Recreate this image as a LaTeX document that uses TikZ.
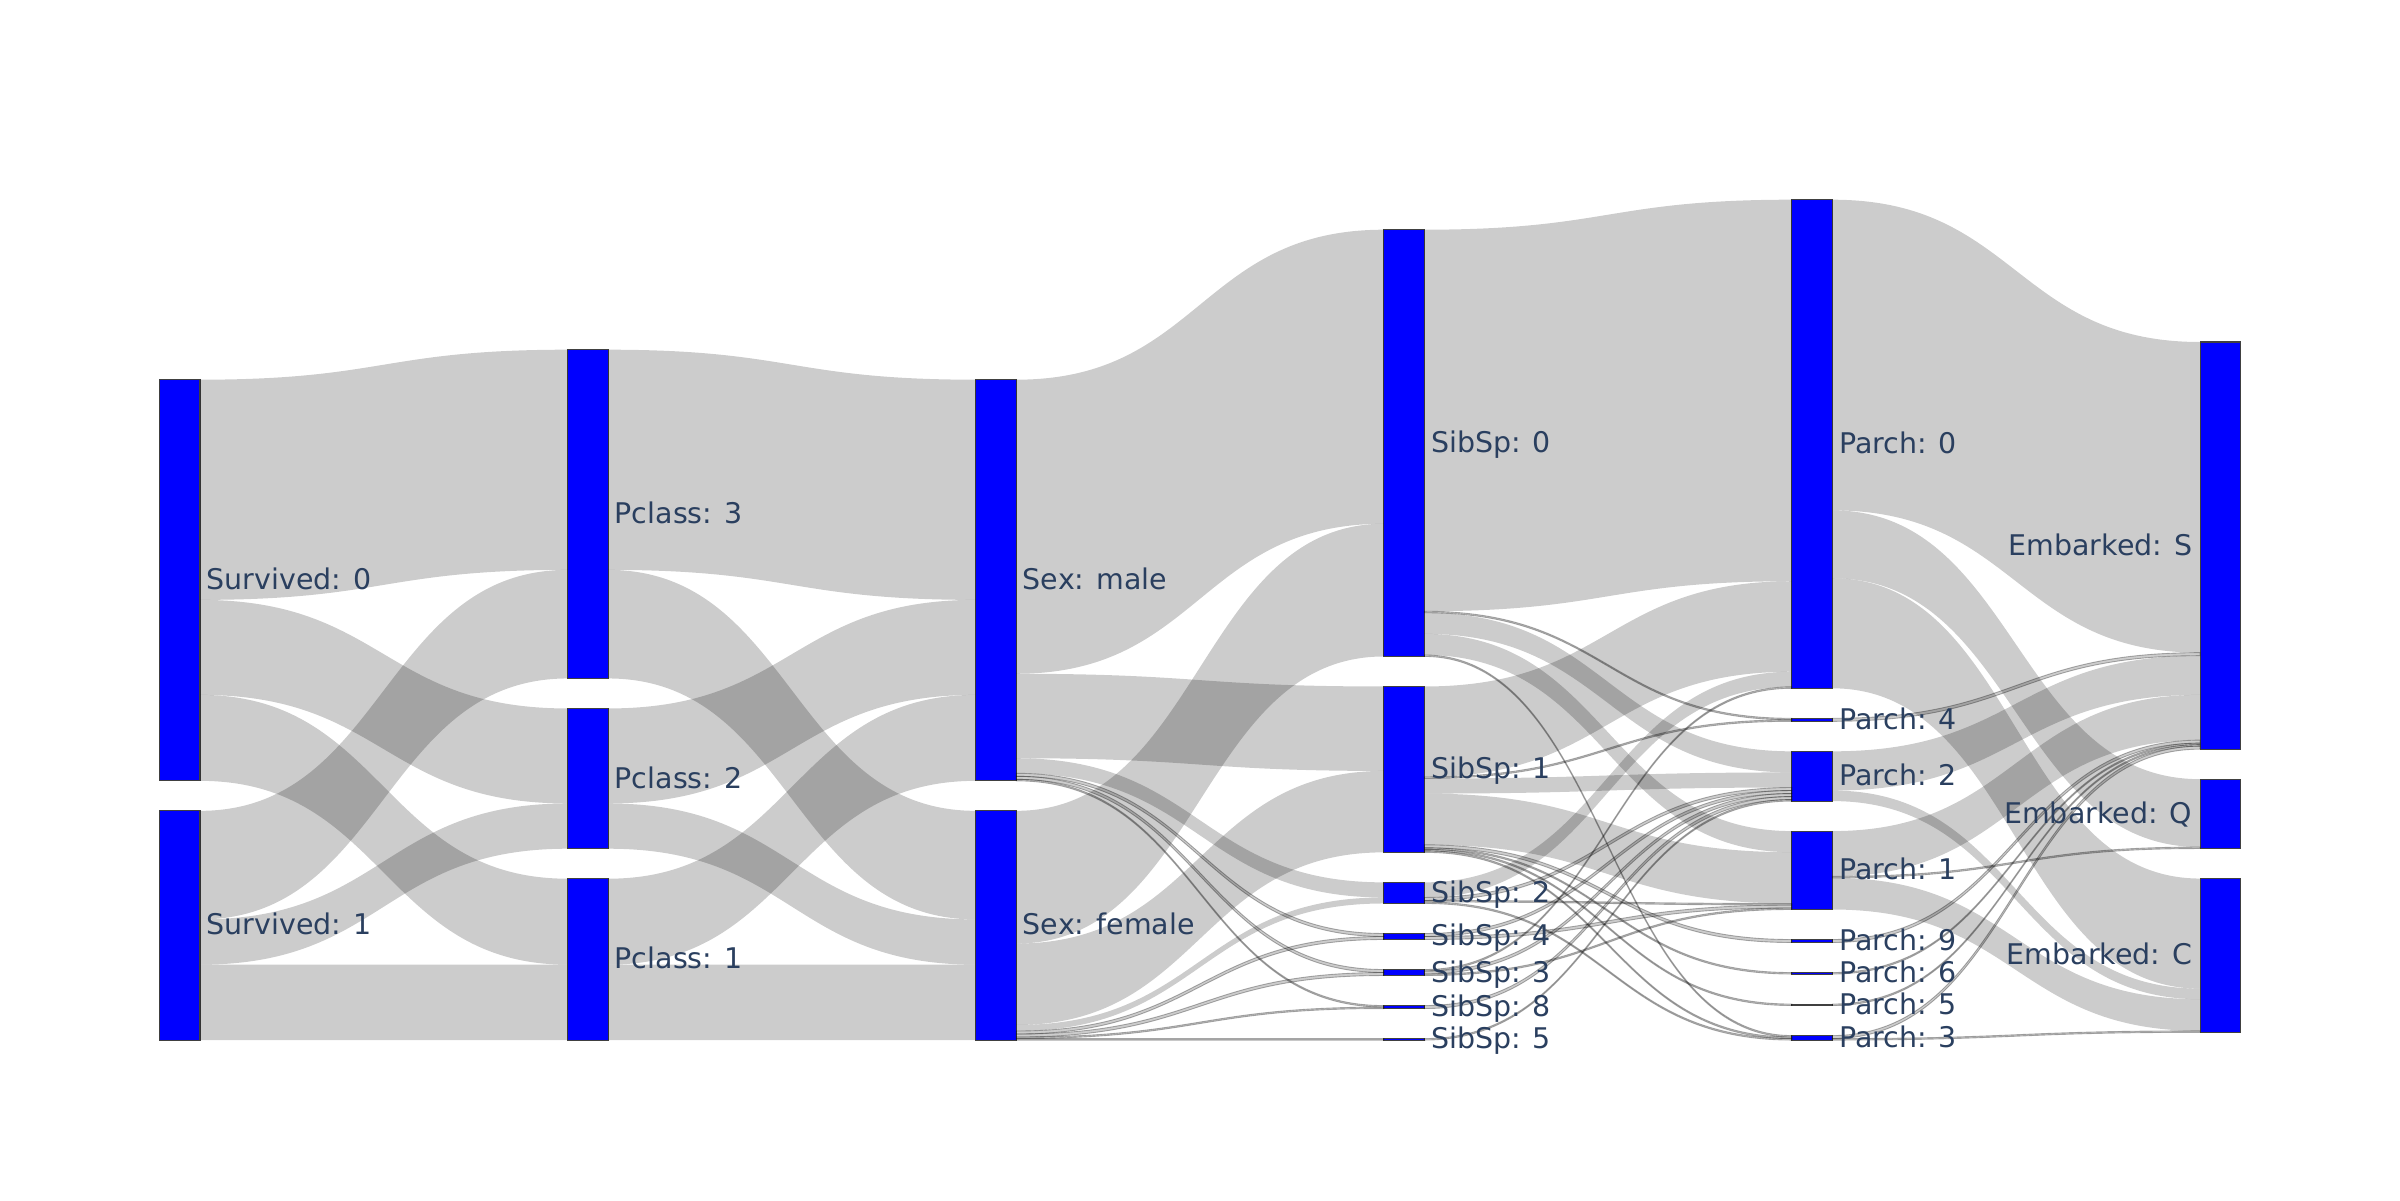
\documentclass[tikz,border=0pt]{standalone}
\usepackage{fontspec}
\setmainfont{DejaVu Sans}
\usetikzlibrary{positioning,calc}
\definecolor{labcol}{HTML}{2A3F5F}
\newlength\pp
\setlength\pp{0.42907pt}% one passenger

\begin{document}
\begin{tikzpicture}[
  bar/.style={draw=black!75, line width=0.3pt, fill=blue, minimum width=0.405cm, inner sep=0pt, outer sep=0pt},
  lab/.style={text=labcol, font=\fontsize{8.1}{9.7}\selectfont, inner sep=0pt, text height=0.9em, text depth=0.36em},
  flow/.style={fill=black, fill opacity=0.2},
  thinflow/.style={flow, draw=black, draw opacity=0.3, line width=0.25pt},
  node distance=0.3cm]
\useasboundingbox (0,0) rectangle (24,12);

% columns
\node[bar, anchor=north west, minimum height={266*\pp}] (sv0) at (1.595,8.203) {};
\node[bar, below=of sv0, minimum height={152*\pp}] (sv1) {};

\node[bar, anchor=north west, minimum height={218*\pp}] (pc3) at (5.676,8.503) {};
\node[bar, below=of pc3, minimum height={93*\pp}] (pc2) {};
\node[bar, below=of pc2, minimum height={107*\pp}] (pc1) {};

\node[bar, anchor=north west, minimum height={266*\pp}] (male) at (9.757,8.203) {};
\node[bar, below=of male, minimum height={152*\pp}] (female) {};

\node[bar, anchor=north west, minimum height={283*\pp}] (sb0) at (13.838,9.703) {};
\node[bar, below=of sb0, minimum height={110*\pp}] (sb1) {};
\node[bar, below=of sb1, minimum height={14*\pp}] (sb2) {};
\node[bar, below=of sb2, minimum height={4*\pp}] (sb4) {};
\node[bar, below=of sb4, minimum height={4*\pp}] (sb3) {};
\node[bar, below=of sb3, minimum height={2*\pp}] (sb8) {};
\node[bar, below=of sb8, minimum height={1*\pp}] (sb5) {};

\node[bar, anchor=north west, minimum height={324*\pp}] (pa0) at (17.919,10.003) {};
\node[bar, below=of pa0, minimum height={2*\pp}] (pa4) {};
\node[bar, below=of pa4, minimum height={33*\pp}] (pa2) {};
\node[bar, below=of pa2, minimum height={52*\pp}] (pa1) {};
\node[bar, below=of pa1, minimum height={2*\pp}] (pa9) {};
\node[bar, below=of pa9, minimum height={1*\pp}] (pa6) {};
\node[bar, below=of pa6, minimum height={1*\pp}] (pa5) {};
\node[bar, below=of pa5, minimum height={3*\pp}] (pa3) {};

\node[bar, anchor=north west, minimum height={270*\pp}] (emS) at (22.0,8.58) {};
\node[bar, below=of emS, minimum height={46*\pp}] (emQ) {};
\node[bar, below=of emQ, minimum height={102*\pp}] (emC) {};

% links: source/offset/target/offset/count
\foreach \a/\i/\b/\j/\v in {sv0/0/pc3/0/146, sv0/146/pc2/0/63, sv0/209/pc1/0/57,
    sv1/0/pc3/146/72, sv1/72/pc2/63/30, sv1/102/pc1/57/50,
    pc3/0/male/0/146, pc3/146/female/0/72, pc2/0/male/146/63,
    pc2/63/female/72/30, pc1/0/male/209/57, pc1/57/female/102/50,
    male/0/sb0/0/195, male/195/sb1/0/56, male/251/sb2/0/10,
    female/0/sb0/195/88, female/88/sb1/56/54, female/142/sb2/10/4,
    sb0/0/pa0/0/253, sb0/254/pa2/0/14, sb0/268/pa1/0/14,
    sb1/0/pa0/253/60, sb1/61/pa2/14/10, sb1/71/pa1/14/34, sb2/0/pa0/313/10,
    pa0/0/emS/0/206, pa0/206/emQ/0/45, pa0/251/emC/0/73,
    pa2/0/emS/208/26, pa2/26/emC/73/7, pa1/0/emS/234/30, pa1/31/emC/80/21}
  \fill[flow] let \p1=(\a.north east), \p2=(\b.north west), \p3=($(\p1)!0.5!(\p2)$) in
    (\x1,{\y1-\i*\pp}) .. controls (\x3,{\y1-\i*\pp}) and (\x3,{\y2-\j*\pp}) .. (\x2,{\y2-\j*\pp})
    -- (\x2,{\y2-(\j+\v)*\pp}) .. controls (\x3,{\y2-(\j+\v)*\pp}) and (\x3,{\y1-(\i+\v)*\pp}) .. (\x1,{\y1-(\i+\v)*\pp}) -- cycle;

% thin links
\foreach \a/\i/\b/\j/\v in {male/261/sb4/0/2, male/263/sb3/0/2, male/265/sb8/0/1,
    female/146/sb4/2/2, female/148/sb3/2/2, female/150/sb8/1/1, female/151/sb5/0/1,
    sb0/253/pa4/0/1, sb0/282/pa3/0/1, sb1/60/pa4/1/1, sb1/105/pa9/0/2,
    sb1/107/pa6/0/1, sb1/108/pa5/0/1, sb1/109/pa3/1/1,
    sb2/10/pa2/24/2, sb2/12/pa1/48/1, sb2/13/pa3/2/1,
    sb4/0/pa2/26/2, sb4/2/pa1/49/2, sb3/0/pa0/323/1, sb3/1/pa2/28/2, sb3/3/pa1/51/1,
    sb8/0/pa2/30/2, sb5/0/pa2/32/1,
    pa4/0/emS/206/2, pa9/0/emS/264/2, pa6/0/emS/266/1, pa5/0/emS/267/1,
    pa3/0/emS/268/2, pa3/2/emC/101/1, pa1/30/emQ/45/1}
  \filldraw[thinflow] let \p1=(\a.north east), \p2=(\b.north west), \p3=($(\p1)!0.5!(\p2)$) in
    (\x1,{\y1-\i*\pp}) .. controls (\x3,{\y1-\i*\pp}) and (\x3,{\y2-\j*\pp}) .. (\x2,{\y2-\j*\pp})
    -- (\x2,{\y2-(\j+\v)*\pp}) .. controls (\x3,{\y2-(\j+\v)*\pp}) and (\x3,{\y1-(\i+\v)*\pp}) .. (\x1,{\y1-(\i+\v)*\pp}) -- cycle;

% labels
\node[lab, right=0.06cm of sv0] (sv0l) {Survived: 0};
\node[lab, right=0.06cm of sv1] (sv1l) {Survived: 1};
\node[lab, right=0.06cm of pc3] (pc3l) {Pclass: 3};
\node[lab, right=0.06cm of pc2] (pc2l) {Pclass: 2};
\node[lab, right=0.06cm of pc1] (pc1l) {Pclass: 1};
\node[lab, right=0.06cm of male] (malel) {Sex: male};
\node[lab, right=0.06cm of female] (femalel) {Sex: female};
\foreach \n in {0,1,2,4,3,8,5}
  \node[lab, right=0.06cm of sb\n] (sb\n l) {SibSp: \n};
\foreach \n in {0,4,2,1,9,6,5,3}
  \node[lab, right=0.06cm of pa\n] (pa\n l) {Parch: \n};
\foreach \n in {S,Q,C}
  \node[lab, left=0.07cm of em\n] (em\n l) {Embarked: \n};
\end{tikzpicture}
\end{document}
